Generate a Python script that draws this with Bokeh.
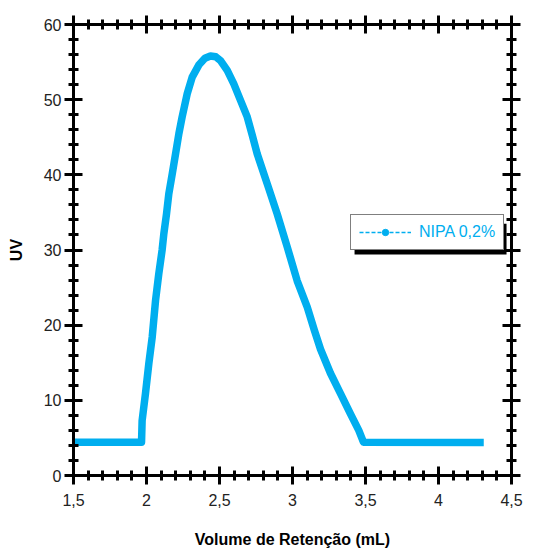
from bokeh.plotting import figure
from bokeh.models import (LinearAxis, FixedTicker, Legend, LegendItem, BoxAnnotation, Range1d)
from bokeh.embed import file_html
from bokeh.resources import INLINE

# Data
volume = [1.50, 1.966, 1.97, 1.993, 2.016, 2.039, 2.062, 2.084, 2.107, 2.119, 2.137,
          2.153, 2.176, 2.199, 2.222, 2.244, 2.279, 2.313, 2.358, 2.40, 2.438, 2.475,
          2.507, 2.553, 2.598, 2.644, 2.690, 2.724, 2.758, 2.827, 2.895, 2.964, 3.032,
          3.101, 3.150, 3.192, 3.260, 3.329, 3.397, 3.454, 3.486, 4.31]
uv = [4.43, 4.43, 7.3, 10.9, 14.9, 18.4, 23.3, 26.8, 30.0, 32.2, 34.8,
      37.5, 40.1, 42.8, 45.5, 47.7, 50.8, 53.0, 54.6, 55.5, 55.8, 55.7,
      55.2, 53.9, 52.1, 49.9, 47.7, 45.3, 42.8, 38.8, 34.8, 30.4, 25.9,
      22.4, 19.3, 16.8, 13.6, 10.9, 8.2, 6.0, 4.43, 4.40]
series_name = "NIPA 0,2%"

x_major = [1.5, 2.0, 2.5, 3.0, 3.5, 4.0, 4.5]
x_labels = ["1,5", "2", "2,5", "3", "3,5", "4", "4,5"]
x_minor = [round(1.5 + 0.1 * i, 2) for i in range(31)]
y_major = [0, 10, 20, 30, 40, 50, 60]
y_minor = list(range(0, 61, 2))

CYAN = "#00AEEF"
FONT = "Liberation Sans"
NAN = float("nan")

p = figure(width=535, height=551, output_backend="svg", toolbar_location=None,
           x_range=Range1d(1.5, 4.5), y_range=Range1d(0, 60),
           x_axis_label="Volume de Retenção (mL)", y_axis_label="UV",
           min_border_left=73, min_border_right=24, min_border_top=24, min_border_bottom=76)
p.grid.visible = False
p.outline_line_color = None
p.background_fill_color = "white"
p.border_fill_color = "white"

def style_axis(ax, ticks, minor, show_labels):
    ax.ticker = FixedTicker(ticks=ticks, minor_ticks=minor)
    ax.axis_line_width = 3
    ax.axis_line_color = "black"
    ax.major_tick_line_width = 3
    ax.minor_tick_line_width = 3
    ax.major_tick_line_color = "black"
    ax.minor_tick_line_color = "black"
    ax.major_tick_in = 9
    ax.major_tick_out = 9
    ax.minor_tick_in = 5
    ax.minor_tick_out = 5
    ax.major_label_text_font = FONT
    ax.major_label_text_font_size = "16px"
    ax.major_label_text_color = "#222222"
    ax.axis_label_text_font = FONT
    ax.axis_label_text_font_size = "16px"
    ax.axis_label_text_font_style = "bold"
    ax.axis_label_text_color = "black"
    if not show_labels:
        ax.major_label_text_alpha = 0
        ax.major_label_text_font_size = "1px"

xb = p.xaxis[0]
style_axis(xb, x_major, x_minor, True)
xb.major_label_overrides = {t: l for t, l in zip(x_major, x_labels)}
xb.major_label_standoff = 9
xb.axis_label_standoff = 22

yl = p.yaxis[0]
style_axis(yl, y_major, y_minor, True)
yl.major_label_standoff = 3
yl.axis_label_standoff = 16

xt = LinearAxis()
style_axis(xt, x_major, x_minor, False)
p.add_layout(xt, "above")
yr = LinearAxis()
style_axis(yr, y_major, y_minor, False)
p.add_layout(yr, "right")

# main curve
p.line(volume, uv, line_color=CYAN, line_width=7.5, line_join="round", line_cap="butt")

# legend shadow (offset box behind the legend)
shadow = BoxAnnotation(left=3.425, right=4.466, bottom=29.4, top=33.5,
                       fill_color="black", fill_alpha=1, line_color=None, level="overlay")
p.add_layout(shadow)

r_dash = p.line([NAN], [NAN], line_color=CYAN, line_width=1.5, line_dash="4 2")
r_dot = p.scatter([NAN], [NAN], marker="circle", size=6, fill_color=CYAN, line_color=CYAN)

legend = Legend(items=[LegendItem(label=series_name, renderers=[r_dash, r_dot])],
                location=(277, 225), margin=0, padding=8, glyph_width=52, glyph_height=16,
                label_standoff=8, border_line_color="black", border_line_width=1.5,
                background_fill_color="white", background_fill_alpha=1,
                label_text_font=FONT, label_text_font_size="16px", label_text_color=CYAN)
p.add_layout(legend, "center")

open("out.html", "w").write(file_html(p, INLINE))
